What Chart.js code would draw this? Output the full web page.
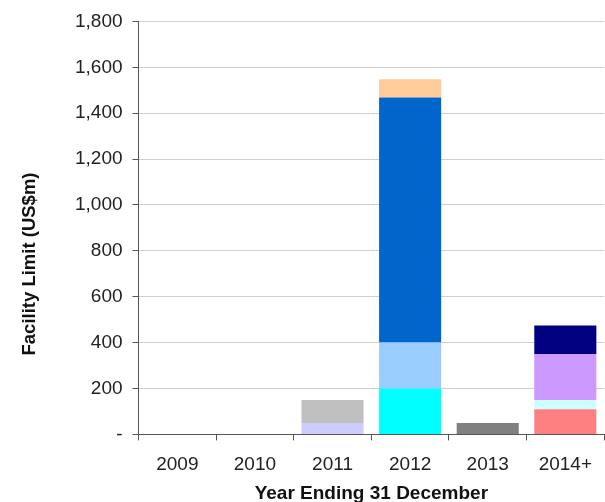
<!DOCTYPE html>
<html>
<head>
<meta charset="utf-8">
<script src="https://cdn.jsdelivr.net/npm/chart.js@4.4.1/dist/chart.umd.min.js"></script>
<style>
  html, body { margin: 0; padding: 0; background: #fff; }
  #wrap { width: 605px; height: 502px; }
</style>
</head>
<body>
<div id="wrap"><canvas id="myChart" width="605" height="502"></canvas></div>
<script>
// categories on the x axis
var years = ["2009", "2010", "2011", "2012", "2013", "2014+"];

// stacked segments, bottom to top (US$m)
var lavender2011 = [null, null, 50, null, null, null];
var grey2011     = [null, null, 100, null, null, null];
var cyan2012     = [null, null, null, 200, null, null];
var skyBlue2012  = [null, null, null, 200, null, null];
var blue2012     = [null, null, null, 1068, null, null];
var peach2012    = [null, null, null, 80, null, null];
var grey2013     = [null, null, null, null, 50, null];
var salmon2014   = [null, null, null, null, null, 110];
var ice2014      = [null, null, null, null, null, 40];
var violet2014   = [null, null, null, null, null, 200];
var navy2014     = [null, null, null, null, null, 125];

var yMax = 1800;
var yStep = 200;

var series = [
  { data: lavender2011, color: "#CCCCFF" },
  { data: grey2011, color: "#C0C0C0" },
  { data: cyan2012, color: "#00FFFF" },
  { data: skyBlue2012, color: "#99CCFF" },
  { data: blue2012, color: "#0066CC" },
  { data: peach2012, color: "#FFCC99" },
  { data: grey2013, color: "#808080" },
  { data: salmon2014, color: "#FF8080" },
  { data: ice2014, color: "#CCFFFF" },
  { data: violet2014, color: "#CC99FF" },
  { data: navy2014, color: "#000080" }
];

var FONT = "'Liberation Sans', Arial, Helvetica, sans-serif";

// y axis title drawn by hand so it can sit where the original has it
var yTitlePlugin = {
  id: "yTitle",
  afterDraw: function (chart) {
    var ctx = chart.ctx;
    ctx.save();
    ctx.translate(30, 264);
    ctx.rotate(-Math.PI / 2);
    ctx.font = "bold 18.5px " + FONT;
    ctx.fillStyle = "#111";
    ctx.textAlign = "center";
    ctx.textBaseline = "middle";
    ctx.fillText("Facility Limit (US$m)", 0, 0);
    ctx.restore();
  }
};

var config = {
  type: "bar",
  data: {
    labels: years,
    datasets: series.map(function (s) {
      return {
        data: s.data,
        backgroundColor: s.color,
        borderWidth: 0,
        categoryPercentage: 1,
        barPercentage: 0.8
      };
    })
  },
  options: {
    responsive: false,
    animation: false,
    layout: { padding: { left: 65, right: 0, top: 16, bottom: -3 } },
    plugins: {
      legend: { display: false },
      tooltip: { enabled: false }
    },
    scales: {
      x: {
        stacked: true,
        grid: {
          offset: true,
          drawOnChartArea: false,
          drawTicks: true,
          tickLength: 6,
          tickColor: "#555"
        },
        border: { color: "#555", width: 1 },
        ticks: {
          color: "#222",
          padding: 13,
          font: { family: FONT, size: 19 }
        },
        title: {
          display: true,
          text: "Year Ending 31 December",
          color: "#111",
          font: { family: FONT, size: 19, weight: "bold" },
          padding: { top: -7, bottom: 0 }
        }
      },
      y: {
        stacked: true,
        min: 0,
        max: yMax,
        grid: {
          color: "#cfcfcf",
          lineWidth: 1,
          tickLength: 6,
          tickColor: "#555"
        },
        border: { color: "#555", width: 1 },
        ticks: {
          stepSize: yStep,
          color: "#222",
          padding: 10,
          font: { family: FONT, size: 19 },
          callback: function (value) {
            return value === 0 ? "-" : value.toLocaleString("en-US");
          }
        }
      }
    }
  },
  plugins: [yTitlePlugin]
};

var ctx = document.getElementById("myChart").getContext("2d");
var chart = new Chart(ctx, config);
</script>
</body>
</html>
